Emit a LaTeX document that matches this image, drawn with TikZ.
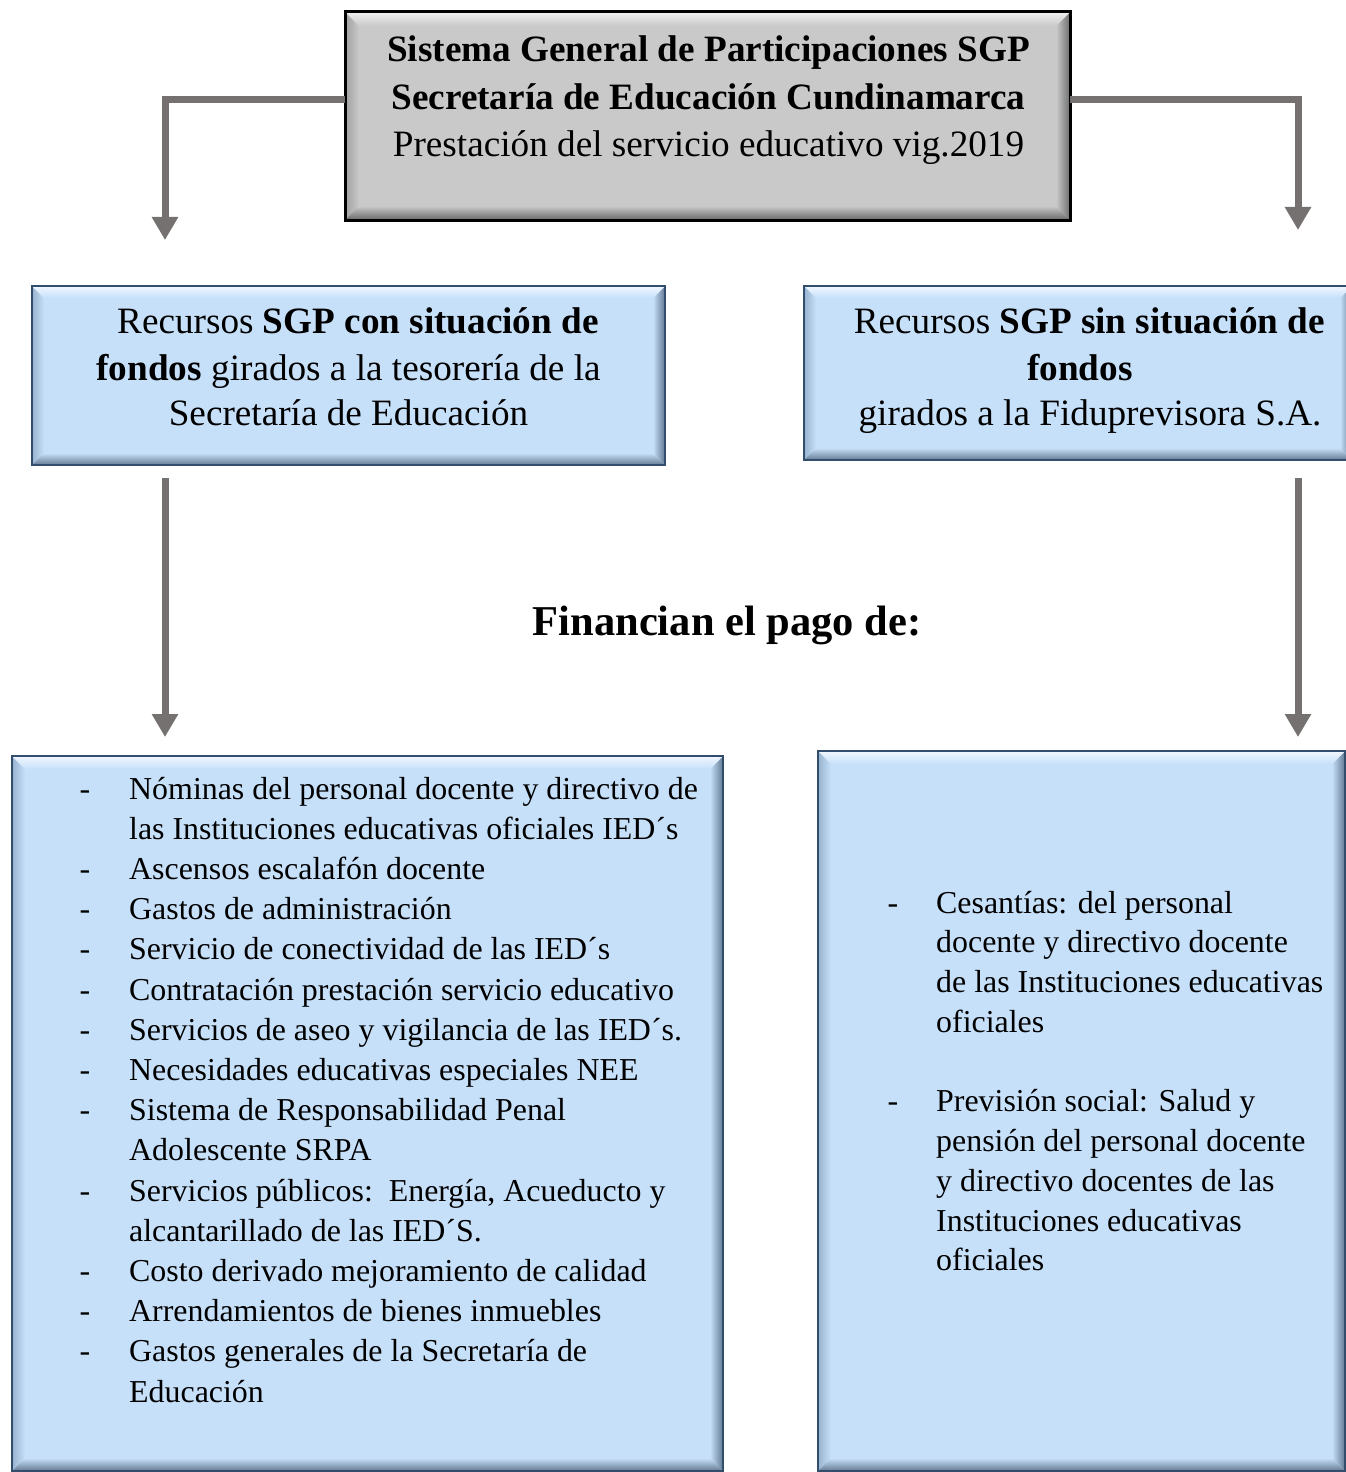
\documentclass[tikz,border=0pt]{standalone}
\usepackage{fontspec}
\setmainfont{Liberation Serif}
\usetikzlibrary{arrows.meta,calc}
\definecolor{arrgray}{RGB}{118,113,113}
\definecolor{bfill}{RGB}{199,224,249}
\definecolor{bborder}{RGB}{50,78,108}
\definecolor{btop}{RGB}{240,247,254}
\definecolor{bleft}{RGB}{150,178,206}
\definecolor{bright}{RGB}{96,120,146}
\definecolor{bbot}{RGB}{100,122,146}
\definecolor{gfill}{RGB}{201,201,201}
\definecolor{gtop}{RGB}{240,240,240}
\definecolor{gleft}{RGB}{160,160,160}
\definecolor{gright}{RGB}{110,110,110}
\definecolor{gbot}{RGB}{105,105,105}
% #1 node, #2 width, #3 top, #4 left, #5 right, #6 bottom, #7 fill
\newcommand\bevelit[7]{%
  \shade[left color=#4, right color=#7] (#1.north west) -- ([shift={(#2,#2)}]#1.north west) -- ([shift={(#2,-#2)}]#1.south west) -- (#1.south west) -- cycle;
  \shade[left color=#7, right color=#5] (#1.north east) -- ([shift={(-#2,#2)}]#1.north east) -- ([shift={(-#2,-#2)}]#1.south east) -- (#1.south east) -- cycle;
  \shade[top color=#3, bottom color=#7] (#1.north west) -- (#1.north east) -- ([shift={(-#2,#2)}]#1.north east) -- ([shift={(#2,#2)}]#1.north west) -- cycle;
  \shade[top color=#7, bottom color=#6] (#1.south west) -- (#1.south east) -- ([shift={(-#2,-#2)}]#1.south east) -- ([shift={(#2,-#2)}]#1.south west) -- cycle;
}
\begin{document}
\begin{tikzpicture}[x=1bp,y=-1bp,
  boxbase/.style={rectangle,inner sep=0pt,outer sep=0pt},
  bluebox/.style={boxbase,fill=bfill},
  graybox/.style={boxbase,fill=gfill},
  arr/.style={draw=arrgray,line width=7bp,-{Triangle[width=25bp,length=23bp]}},
  txt/.style={inner sep=0pt,anchor=base},
  big/.style={txt,font=\fontsize{37.2bp}{44bp}\selectfont},
  small/.style={txt,font=\fontsize{31.9bp}{38bp}\selectfont},
  huge/.style={txt,font=\fontsize{42.5bp}{50bp}\selectfont\bfseries}]
\useasboundingbox (0,0) rectangle (1346,1472);
\clip (0,0) rectangle (1346,1472);
\fill[white] (0,0) rectangle (1346,1472);

% boxes
\node[graybox,minimum width=725bp,minimum height=208bp] (T) at (707.5,116) {};
\bevelit{T}{14}{gtop}{gleft}{gright}{gbot}{gfill}
\draw[black,line width=3bp] (T.north west) rectangle (T.south east);

\node[bluebox,minimum width=633bp,minimum height=179bp] (M1) at (348.5,375.5) {};
\bevelit{M1}{12}{btop}{bleft}{bright}{bbot}{bfill}
\draw[bborder,line width=2bp] (M1.north west) rectangle (M1.south east);

\node[bluebox,minimum width=548bp,minimum height=174bp] (M2) at (1078,373) {};
\bevelit{M2}{12}{btop}{bleft}{bright}{bbot}{bfill}
\draw[bborder,line width=2bp] (M2.north west) rectangle (M2.south east);

\node[bluebox,minimum width=711bp,minimum height=715bp] (B1) at (367.5,1113.5) {};
\bevelit{B1}{13}{btop}{bleft}{bright}{bbot}{bfill}
\draw[bborder,line width=2bp] (B1.north west) rectangle (B1.south east);

\node[bluebox,minimum width=527bp,minimum height=720bp] (B2) at (1081.5,1111) {};
\bevelit{B2}{13}{btop}{bleft}{bright}{bbot}{bfill}
\draw[bborder,line width=2bp] (B2.north west) rectangle (B2.south east);

% connectors
\coordinate (ylev) at (0,100);
\coordinate (a1) at (165,240);
\coordinate (a2) at (1298,230);
\coordinate (a3) at (165,737);
\coordinate (a4) at (1298,737);
\draw[arr] (T.west |- ylev) -| (a1);
\draw[arr] (T.east |- ylev) -| (a2);
\draw[arr,shorten <=13bp] (M1.south -| a3) -- (a3);
\draw[arr,shorten <=18bp] (M2.south -| a4) -- (a4);

% top box text
\node[big] (t1) at (708.5,62) {\bfseries Sistema General de Participaciones SGP};
\node[big] (t2) at (708.5,110) {\bfseries Secretaría de Educación Cundinamarca};
\node[big] (t3) at (708.5,157) {Prestación del servicio educativo vig.2019};

% middle left
\node[big] (m11) at (358,333) {Recursos \textbf{SGP con situación de}};
\node[big] (m12) at (348.5,380) {\textbf{fondos} girados a la tesorería de la};
\node[big] (m13) at (348.5,425) {Secretaría de Educación};

% middle right
\node[big] (m21) at (1089.5,333) {Recursos \textbf{SGP sin situación de}};
\node[big] (m22) at (1080,380) {\textbf{fondos}};
\node[big] (m23) at (1090,425) {girados a la Fiduprevisora S.A.};

% heading
\node[huge] (fin) at (727,635) {Financian el pago de:};

% left list
\foreach [count=\i from 0] \t in {%
  {Nóminas del personal docente y directivo de},
  {las Instituciones educativas oficiales IED´s},
  {Ascensos escalafón docente},
  {Gastos de administración},
  {Servicio de conectividad de las IED´s},
  {Contratación prestación servicio educativo},
  {Servicios de aseo y vigilancia de las IED´s.},
  {Necesidades educativas especiales NEE},
  {Sistema de Responsabilidad Penal},
  {Adolescente SRPA},
  {Servicios públicos:\ \ Energía, Acueducto y},
  {alcantarillado de las IED´S.},
  {Costo derivado mejoramiento de calidad},
  {Arrendamientos de bienes inmuebles},
  {Gastos generales de la Secretaría de},
  {Educación}}
  {\node[small,anchor=base west] (L\i) at (129,{799+40.2*\i}) {\t};}
\foreach \i in {0,2,3,4,5,6,7,8,10,12,13,14}
  {\node[small] (LD\i) at (85,{799+40.2*\i}) {-};}

% right list
\foreach [count=\i from 0] \t in {%
  {Cesantías: del personal},
  {docente y directivo docente},
  {de las Instituciones educativas},
  {oficiales},
  {},
  {Previsión social: Salud y},
  {pensión del personal docente},
  {y directivo docentes de las},
  {Instituciones educativas},
  {oficiales}}
  {\node[small,anchor=base west] (R\i) at (936,{913+39.75*\i}) {\t};}
\foreach \i in {0,5}
  {\node[small] (RD\i) at (893,{913+39.75*\i}) {-};}
\end{tikzpicture}
\end{document}
